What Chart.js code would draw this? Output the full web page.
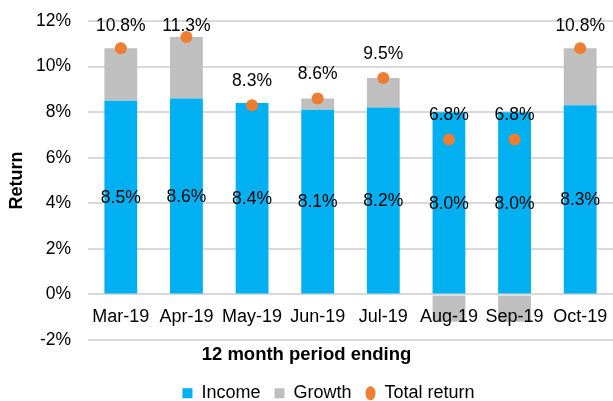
<!DOCTYPE html>
<html>
<head>
<meta charset="utf-8">
<script src="https://cdn.jsdelivr.net/npm/chart.js@4/dist/chart.umd.min.js"></script>
<style>
  html, body { margin: 0; padding: 0; background: #fff; }
  #wrap { width: 613px; height: 401px; }
</style>
</head>
<body>
<div id="wrap"><canvas id="grafico"></canvas></div>
<script>
// dados
const meses = ["Mar-19", "Apr-19", "May-19", "Jun-19", "Jul-19", "Aug-19", "Sep-19", "Oct-19"];
const renda = [8.5, 8.6, 8.4, 8.1, 8.2, 8.0, 8.0, 8.3];
const crescimento = [2.3, 2.7, 0, 0.5, 1.3, -1.2, -1.2, 2.5];
const retornoTotal = [10.8, 11.3, 8.3, 8.6, 9.5, 6.8, 6.8, 10.8];
const ticksY = [-2, 0, 2, 4, 6, 8, 10, 12];

const fonte = "'Liberation Sans', Arial, sans-serif";

// rótulos de dados (renda no meio da barra, total acima do ponto)
const rotulosPlugin = {
    id: "rotulos",
    afterLayout(chart) {
        // legenda do original fica um pouco à direita do centro
        chart.legend.left += 22;
        chart.legend.right += 22;
    },
    afterDatasetsDraw(chart) {
        const ctx = chart.ctx;
        ctx.save();
        ctx.font = "17.5px " + fonte;
        ctx.fillStyle = "#000";
        ctx.textAlign = "center";
        ctx.textBaseline = "middle";

        chart.getDatasetMeta(0).data.forEach((barra, i) => {
            ctx.fillText(renda[i].toFixed(1) + "%", barra.x, (barra.y + barra.base) / 2 + 1);
        });
        chart.getDatasetMeta(2).data.forEach((ponto, i) => {
            const y = Math.max(ponto.y - 24, 26);
            ctx.fillText(retornoTotal[i].toFixed(1) + "%", ponto.x, y);
        });
        ctx.restore();
    }
};

new Chart(document.getElementById("grafico"), {
    type: "bar",
    data: {
        labels: meses,
        datasets: [
            {
                label: "Income",
                data: renda,
                backgroundColor: "#00B0F0",
                stack: "barras",
                order: 1,
                barPercentage: 0.5,
                categoryPercentage: 1
            },
            {
                label: "Growth",
                data: crescimento,
                backgroundColor: "#BFBFBF",
                stack: "barras",
                order: 1,
                barPercentage: 0.5,
                categoryPercentage: 1
            },
            {
                type: "line",
                label: "Total return",
                data: retornoTotal,
                showLine: false,
                stack: "total",
                order: 0,
                pointRadius: 6,
                pointHoverRadius: 6,
                pointBackgroundColor: "#ED7D31",
                pointBorderWidth: 0,
                backgroundColor: "#ED7D31",
                borderColor: "#ED7D31"
            }
        ]
    },
    options: {
        responsive: true,
        maintainAspectRatio: false,
        animation: false,
        layout: { autoPadding: false, padding: { top: 21, right: 0, left: 0, bottom: -11.2 } },
        plugins: {
            tooltip: { enabled: false },
            title: {
                display: true,
                position: "bottom",
                weight: 500,
                text: "12 month period ending",
                color: "#000",
                font: { family: fonte, size: 18.5, weight: "bold" },
                padding: { top: 4, bottom: 4 }
            },
            legend: {
                position: "bottom",
                labels: {
                    usePointStyle: true,
                    boxHeight: 10,
                    pointStyleWidth: 10,
                    padding: 14,
                    color: "#000",
                    font: { family: fonte, size: 18 },
                    sort: (a, b) => a.datasetIndex - b.datasetIndex,
                    generateLabels(chart) {
                        const itens = Chart.defaults.plugins.legend.labels.generateLabels(chart);
                        itens.forEach(it => {
                            it.pointStyle = it.datasetIndex === 2 ? "circle" : "rect";
                            it.lineWidth = 0;
                        });
                        return itens;
                    }
                }
            }
        },
        scales: {
            x: {
                stacked: true,
                position: { y: 0 },
                afterFit(scale) { scale.paddingLeft = 0; scale.paddingRight = 0; },
                grid: { display: false },
                border: { display: false },
                ticks: { z: 1, color: "#000", font: { family: fonte, size: 18 }, padding: 4, maxRotation: 0 }
            },
            y: {
                stacked: true,
                min: -2,
                max: 12,
                afterFit(scale) { scale.width = 88; },
                afterBuildTicks(scale) { scale.ticks = ticksY.map(v => ({ value: v })); },
                grid: { color: "#D9D9D9", lineWidth: 2, drawTicks: true, tickLength: 15, tickColor: "rgba(0,0,0,0)" },
                border: { display: false },
                ticks: {
                    color: "#000",
                    padding: 2,
                    font: { family: fonte, size: 17.5 },
                    callback: v => v + "%"
                },
                title: {
                    display: true,
                    text: "Return",
                    color: "#000",
                    font: { family: fonte, size: 18, weight: "bold" },
                    padding: { top: 6, bottom: 0 }
                }
            }
        }
    },
    plugins: [rotulosPlugin]
});
</script>
</body>
</html>
